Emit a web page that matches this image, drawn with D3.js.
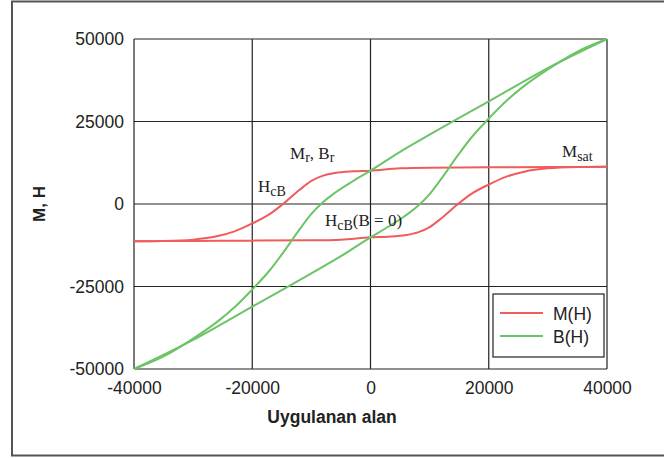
<!DOCTYPE html>
<html>
<head>
    <meta charset="utf-8" />
    <title>M(H), B(H) histerezis</title>
    <script type="text/javascript" src="https://cdn.jsdelivr.net/npm/d3@7"></script>
    <style>
        body { margin: 0; background: #fff; }
        .tick text { font-family: "Liberation Sans", Arial, sans-serif; font-size: 17.5px; fill: #222; }
        .note { font-family: "Liberation Serif", "DejaVu Serif", serif; font-size: 17px; fill: #222; }
    </style>
</head>
<body>
    <svg width="664" height="458"></svg>
    <script>

        // upper branch, H going from +40000 down to -40000
        var hUpper = [40000, 30000, 20000, 10000, 5000, 0, -3000, -6000, -8000, -10000, -12000, -14800, -17000, -20000, -23000, -26000, -30000, -35000, -40000];
        var mUpper = [11300, 11200, 11100, 11000, 10800, 10100, 9900, 9400, 8600, 7000, 4300, 0, -3000, -5900, -8300, -9800, -10800, -11200, -11300];
        var bUpper = [50000, 41200, 31100, 21000, 15800, 10100, 6900, 3400, 600, -3000, -7700, -14800, -20000, -25900, -31300, -35800, -40800, -46200, -50000];

        // lower branch, H going from -40000 up to +40000
        var hLower = [-40000, -30000, -20000, -10000, -5000, 0, 3000, 6000, 8000, 10000, 12000, 14800, 17000, 20000, 23000, 26000, 30000, 35000, 40000];
        var mLower = [-11300, -11200, -11100, -11000, -10800, -10100, -9900, -9400, -8600, -7000, -4300, 0, 3000, 5900, 8300, 9800, 10800, 11200, 11300];
        var bLower = [-50000, -41200, -31100, -21000, -15800, -10100, -6900, -3400, -600, 3000, 7700, 14800, 20000, 25900, 31300, 35800, 40800, 46200, 50000];

        var xTicks = [-40000, -20000, 0, 20000, 40000];
        var yTicks = [-50000, -25000, 0, 25000, 50000];

        var series = [
            { name: "M(H)", color: "#f05c5c", branches: [[hUpper, mUpper], [hLower, mLower]] },
            { name: "B(H)", color: "#6cc466", branches: [[hUpper, bUpper], [hLower, bLower]] }
        ];

        var svg = d3.select("svg");
        var plotL = 134, plotR = 607, plotT = 39, plotB = 369;

        var x = d3.scaleLinear().domain([-40000, 40000]).range([plotL, plotR]);
        var y = d3.scaleLinear().domain([-50000, 50000]).range([plotB, plotT]);

        // outer frame
        svg.append("rect")
            .attr("x", 12).attr("y", 1.5)
            .attr("width", 680).attr("height", 454)
            .attr("fill", "none").attr("stroke", "#555").attr("stroke-width", 2);

        // grid
        svg.append("g").selectAll("line")
            .data(xTicks).enter().append("line")
            .attr("x1", function (d) { return x(d); }).attr("x2", function (d) { return x(d); })
            .attr("y1", plotT).attr("y2", plotB)
            .attr("stroke", "#222").attr("stroke-width", 1.2);
        svg.append("g").selectAll("line")
            .data(yTicks).enter().append("line")
            .attr("y1", function (d) { return y(d); }).attr("y2", function (d) { return y(d); })
            .attr("x1", plotL).attr("x2", plotR)
            .attr("stroke", "#222").attr("stroke-width", 1.2);

        // axes (labels only)
        var fmt = function (d) { return String(d); };
        var xAxis = svg.append("g")
            .attr("transform", "translate(0," + plotB + ")")
            .call(d3.axisBottom(x).tickValues(xTicks).tickFormat(fmt).tickSize(0).tickPadding(13));
        var yAxis = svg.append("g")
            .attr("transform", "translate(" + plotL + ",0)")
            .call(d3.axisLeft(y).tickValues(yTicks).tickFormat(fmt).tickSize(0).tickPadding(10));
        xAxis.select(".domain").remove();
        yAxis.select(".domain").remove();

        // curves
        var line = d3.line()
            .x(function (d) { return x(d[0]); })
            .y(function (d) { return y(d[1]); })
            .curve(d3.curveMonotoneX);

        series.forEach(function (s) {
            s.branches.forEach(function (b) {
                var pts = d3.zip(b[0], b[1]).sort(function (p, q) { return p[0] - q[0]; });
                svg.append("path")
                    .datum(pts)
                    .attr("d", line)
                    .attr("fill", "none")
                    .attr("stroke", s.color)
                    .attr("stroke-width", 2);
            });
        });

        // annotations
        function note(px, py, main, sub, rest) {
            var t = svg.append("text").attr("class", "note").attr("x", px).attr("y", py);
            t.append("tspan").text(main);
            t.append("tspan").attr("dy", 4).attr("font-size", 14).text(sub);
            if (rest) t.append("tspan").attr("dy", -4).text(rest);
            return t;
        }
        var t1 = svg.append("text").attr("class", "note").attr("x", 290).attr("y", 159);
        t1.append("tspan").text("M");
        t1.append("tspan").attr("dy", 3).attr("font-size", 14).text("r");
        t1.append("tspan").attr("dy", -3).text(", B");
        t1.append("tspan").attr("dy", 3).attr("font-size", 14).text("r");
        note(258, 192, "H", "cB");
        note(325, 226, "H", "cB", "(B = 0)");
        note(562, 157, "M", "sat");

        // legend
        var lg = svg.append("g");
        lg.append("rect")
            .attr("x", 493).attr("y", 294).attr("width", 111).attr("height", 63)
            .attr("fill", "#fff").attr("stroke", "#222").attr("stroke-width", 1.2);
        series.forEach(function (s, i) {
            var yy = 313 + i * 23;
            lg.append("line")
                .attr("x1", 500).attr("x2", 543).attr("y1", yy).attr("y2", yy)
                .attr("stroke", s.color).attr("stroke-width", 2);
            lg.append("text")
                .attr("x", 553).attr("y", yy + 7)
                .attr("font-family", "Liberation Sans, Arial, sans-serif").attr("font-size", 17.5)
                .attr("fill", "#222")
                .text(s.name);
        });

        // axis titles
        svg.append("text")
            .attr("transform", "translate(45,204) rotate(-90)")
            .attr("text-anchor", "middle")
            .attr("font-family", "Liberation Sans, Arial, sans-serif")
            .attr("font-size", 17).attr("font-weight", "bold").attr("fill", "#222")
            .text("M, H");
        svg.append("text")
            .attr("x", 332).attr("y", 423)
            .attr("text-anchor", "middle")
            .attr("font-family", "Liberation Sans, Arial, sans-serif")
            .attr("font-size", 17.5).attr("font-weight", "bold").attr("fill", "#222")
            .text("Uygulanan alan");

    </script>
</body>
</html>
